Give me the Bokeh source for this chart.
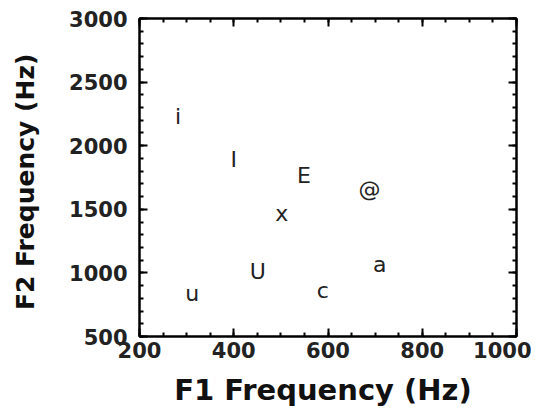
from bokeh.plotting import figure
from bokeh.models import LinearAxis, SingleIntervalTicker, ColumnDataSource
from bokeh.core.properties import value
from bokeh.embed import file_html
from bokeh.resources import INLINE

# vowel symbols and their formant frequencies (Hz)
vowels = ["i", "I", "E", "@", "x", "U", "u", "c", "a"]
f1 = [282, 400, 549, 688, 502, 451, 312, 589, 710]
f2 = [2232, 1894, 1762, 1657, 1469, 1014, 836, 865, 1067]

x_label = "F1 Frequency  (Hz)"
y_label = "F2 Frequency  (Hz)"

src = ColumnDataSource(dict(f1=f1, f2=f2, v=vowels))

p = figure(width=531, height=411, x_range=(200, 1000), y_range=(500, 3000),
           output_backend="svg", toolbar_location=None,
           min_border_left=139, min_border_right=15,
           min_border_top=18, min_border_bottom=75)
p.xgrid.visible = False
p.ygrid.visible = False
p.outline_line_color = "black"
p.outline_line_width = 2
p.background_fill_color = "white"
p.border_fill_color = "white"

FONT = "DejaVu Sans"

def style_axis(ax, ticker, labels=True):
    ax.ticker = ticker
    ax.axis_line_width = 2
    ax.axis_line_color = "black"
    ax.major_tick_in = 8
    ax.major_tick_out = 0
    ax.minor_tick_in = 4
    ax.minor_tick_out = 0
    ax.major_tick_line_width = 2
    ax.minor_tick_line_width = 2
    ax.major_tick_line_color = "black"
    ax.minor_tick_line_color = "black"
    if labels:
        ax.major_label_text_font = FONT
        ax.major_label_text_font_style = "bold"
        ax.major_label_text_font_size = "21px"
        ax.major_label_text_color = "#222222"
        ax.axis_label_text_font = FONT
        ax.axis_label_text_font_style = "bold"
        ax.axis_label_text_color = "#111111"
    else:
        ax.major_label_text_font_size = "0px"
        ax.major_label_standoff = 0

xt = lambda: SingleIntervalTicker(interval=200, num_minor_ticks=4)
yt = lambda: SingleIntervalTicker(interval=500, num_minor_ticks=5)

style_axis(p.xaxis[0], xt())
style_axis(p.yaxis[0], yt())
p.xaxis[0].axis_label = x_label
p.yaxis[0].axis_label = y_label
p.xaxis[0].axis_label_text_font_size = "29px"
p.yaxis[0].axis_label_text_font_size = "25px"
p.xaxis[0].major_label_standoff = 5
p.xaxis[0].axis_label_standoff = 12
p.yaxis[0].major_label_standoff = 12
p.yaxis[0].axis_label_standoff = 26

top = LinearAxis()
style_axis(top, xt(), labels=False)
p.add_layout(top, "above")
right = LinearAxis()
style_axis(right, yt(), labels=False)
p.add_layout(right, "right")

p.text(x="f1", y="f2", text="v", source=src,
       text_font=value(FONT), text_font_size="22px",
       text_align="center", text_baseline="middle", text_color="#222222")

open("out.html", "w").write(file_html(p, INLINE))
